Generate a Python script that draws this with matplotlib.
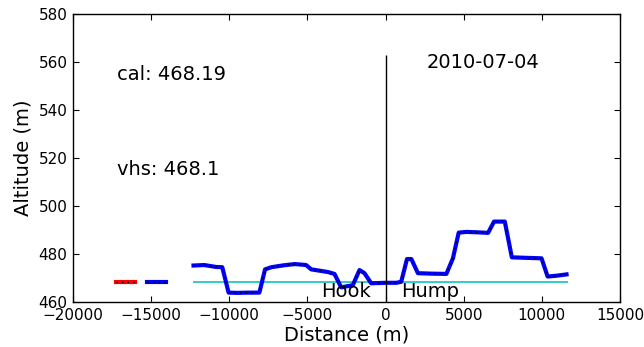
import matplotlib
matplotlib.use("Agg")
import matplotlib.pyplot as plt

# Surveyed profile (distance along track in m, altitude in m)
red_x = [-17220, -16040]
red_y = [468.2, 468.2]

seg2_x = [-15240, -14060]
seg2_y = [468.2, 468.2]

prof_x = [-12290, -11600, -10850, -10450, -10045, -9500, -8800, -8077, -7712,
          -7300, -6500, -5800, -5083, -4760, -3700, -3270, -2840, -2100, -1670,
          -1350, -920, 0, 680, 1000, 1370, 1650, 2070, 3000, 3890, 4310, 4680,
          5170, 6000, 6560, 6940, 7630, 8080, 9000, 9980, 10370, 11000, 11580]
prof_y = [475.2, 475.4, 474.6, 474.5, 463.9, 463.8, 463.9, 463.9, 473.6,
          474.5, 475.3, 475.8, 475.4, 473.6, 472.5, 471.7, 466.1, 467.0, 473.3,
          472.0, 467.8, 468.0, 468.0, 468.4, 477.9, 477.9, 472.0, 471.8, 471.7,
          478.2, 488.9, 489.2, 489.0, 488.8, 493.5, 493.5, 478.6, 478.4, 478.2,
          470.6, 471.0, 471.5]

cal = 468.19
vhs = 468.1
cal_x = [-12290, 11580]
date_label = "2010-07-04"

plt.rcParams.update({
    "font.family": "DejaVu Sans",
    "xtick.direction": "in",
    "ytick.direction": "in",
    "xtick.top": True,
    "ytick.right": True,
    "xtick.major.size": 4,
    "ytick.major.size": 4,
    "xtick.major.pad": 4,
    "ytick.major.pad": 4,
    "axes.linewidth": 1.0,
})

fig = plt.figure(figsize=(6.44, 3.47), dpi=100)
ax = fig.add_axes([0.1134, 0.1297, 0.8493, 0.83])

ax.plot(cal_x, [cal, cal], color="#33cccc", lw=1.4, zorder=2)

dots = (0, (1, 3))
ax.plot(red_x, red_y, color="red", lw=3, zorder=3)
ax.plot(red_x, red_y, color="black", lw=1.0, ls=dots, zorder=4)
ax.plot(seg2_x, seg2_y, color="blue", lw=3, zorder=3)
ax.plot(seg2_x, seg2_y, color="black", lw=1.0, ls=dots, zorder=4)
ax.plot(prof_x, prof_y, color="blue", lw=3, zorder=3)
ax.plot(prof_x, prof_y, color="black", lw=1.0, ls=dots, zorder=4)

ax.vlines(0, 460, 563, color="black", lw=1.0, zorder=5)

ax.text(-17200, 552.5, f"cal: {cal}", fontsize=14)
ax.text(-17200, 512.9, f"vhs: {vhs}", fontsize=14)
ax.text(2600, 557.4, date_label, fontsize=14)
ax.text(-4100, 462.2, "Hook", fontsize=14)
ax.text(1000, 462.2, "Hump", fontsize=14)

ax.set_xlim(-20000, 15000)
ax.set_ylim(460, 580)
ax.set_xticks(range(-20000, 15001, 5000))
ax.set_yticks(range(460, 581, 20))
ax.tick_params(labelsize=11)
ax.set_xlabel("Distance (m)", fontsize=14, labelpad=2)
ax.set_ylabel("Altitude (m)", fontsize=14, labelpad=4)

fig.savefig("out.png", dpi=100, facecolor="white")
